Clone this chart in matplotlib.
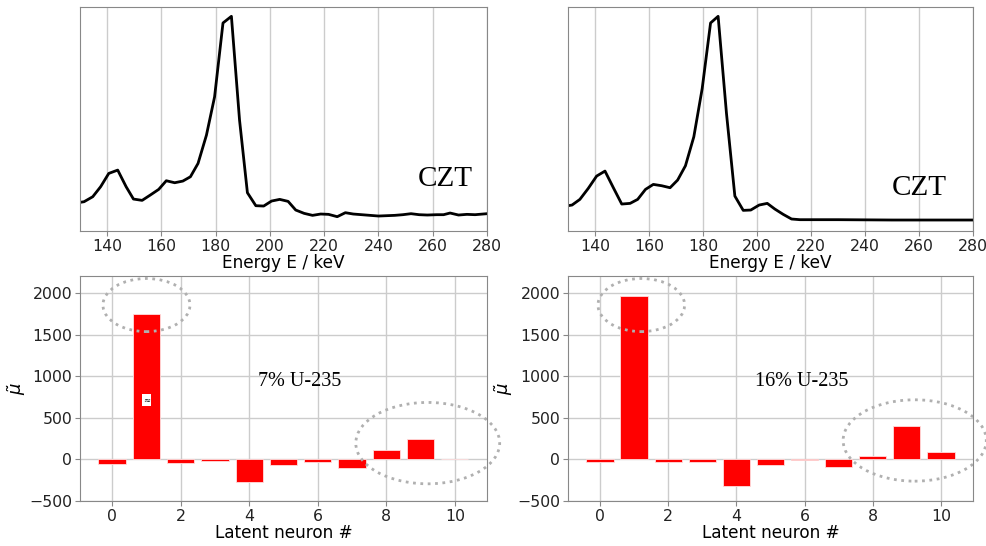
import matplotlib
matplotlib.use("Agg")
import matplotlib.pyplot as plt
from matplotlib.patches import Ellipse
import numpy as np

# ---- Data ----
energy_left = [130, 131.5, 134.7, 137.6, 140.6, 143.9, 147.0, 149.7, 152.9, 155.9, 159.0,
               161.8, 164.9, 167.9, 170.7, 173.5, 176.6, 179.6, 182.7, 185.8, 188.8,
               191.7, 194.8, 197.7, 200.6, 203.6, 206.7, 209.5, 212.6, 215.7, 218.7,
               221.6, 224.8, 227.8, 230.7, 233.8, 236.9, 240.0, 243.0, 246.0, 249.0,
               252.0, 255.0, 258.0, 261.5, 264.0, 266.4, 269.5, 272.6, 275.6, 280.0]
counts_left = [86, 88, 103, 133, 173, 183, 133, 96, 92, 108, 125,
               151, 145, 150, 163, 203, 288, 403, 625, 645, 333,
               115, 76, 75, 90, 95, 89, 63, 53, 47, 51,
               50, 43, 55, 51, 49, 47, 45, 46, 47, 49,
               52, 49, 48, 49, 49, 54, 48, 50, 49, 52]

energy_right = [130, 131.5, 134.4, 137.5, 140.6, 143.7, 146.8, 149.9, 153.0, 155.8, 158.7,
                161.6, 164.7, 167.8, 170.6, 173.5, 176.6, 179.7, 182.8, 185.6, 188.7,
                191.8, 194.9, 197.7, 200.8, 203.8, 206.6, 209.7, 212.8, 215.9, 230.0,
                250.0, 265.0, 280.0]
counts_right = [76, 78, 95, 128, 165, 180, 130, 81, 83, 95, 125,
                140, 136, 130, 153, 196, 283, 428, 625, 645, 353,
                105, 62, 63, 78, 83, 66, 50, 36, 34, 34,
                33, 33, 33]

neurons = list(range(11))
mu_7pct = [-50, 1750, -40, -18, -272, -72, -32, -97, 110, 245, 0]
mu_16pct = [-32, 1972, -32, -32, -322, -64, -8, -88, 44, 402, 88]

spectrum_ticks = [140, 160, 180, 200, 220, 240, 260, 280]
neuron_ticks = [0, 2, 4, 6, 8, 10]
mu_ticks = [-500, 0, 500, 1000, 1500, 2000]

W, H = 987, 546
fig = plt.figure(figsize=(W / 100, H / 100), dpi=100)

def ax_at(l, t, r, b):
    return fig.add_axes([l / W, 1 - b / H, (r - l) / W, (b - t) / H])

spine_col = "#888888"
tick_fs = 11.3
label_fs = 12.2

def style(ax):
    for s in ax.spines.values():
        s.set_color(spine_col)
    ax.tick_params(labelsize=tick_fs, colors="#222222", color=spine_col, pad=2)
    ax.set_axisbelow(True)

# ---- Top spectra ----
for (l, r), en, ct, cx, cy in [((80, 487), energy_left, counts_left, 264.5, 0.232),
                                ((568, 973), energy_right, counts_right, 260.0, 0.194)]:
    ax = ax_at(l, 7, r, 231)
    ax.plot(en, ct, color="black", lw=2)
    ax.set_xlim(130, 280)
    ax.set_ylim(0, 673)
    ax.set_xticks(spectrum_ticks)
    ax.set_yticks([])
    ax.grid(axis="x", color="#cccccc", lw=1)
    ax.set_xlabel("Energy E / keV", fontsize=label_fs, labelpad=0)
    style(ax)
    ax.text(cx, cy, "CZT", transform=ax.get_xaxis_transform(), ha="center",
            va="center", fontsize=21, family="Liberation Serif")

# ---- Bottom latent bars ----
panels = [((80, 487), mu_7pct, "7% U-235", 0.54, 1.0, 9.21, 197, -0.128),
          ((568, 973), mu_16pct, "16% U-235", 0.578, 1.21, 9.23, 229, -0.131)]
for (l, r), vals, label, tx, e1x, e2x, e2y, ylx in panels:
    ax = ax_at(l, 276, r, 501)
    ax.bar(neurons, vals, width=0.8, color="red", edgecolor="#ffdddd", linewidth=0.6)
    ax.set_ylim(-500, 2210)
    ax.set_xticks(neuron_ticks)
    ax.set_yticks(mu_ticks)
    ax.grid(True, color="#cccccc", lw=1)
    ax.set_xlabel("Latent neuron #", fontsize=label_fs, labelpad=0)
    ax.set_ylabel(r"$\tilde{\mu}$", fontsize=13)
    ax.yaxis.set_label_coords(ylx, 0.5)
    style(ax)
    ax.text(tx, 0.53, label, transform=ax.transAxes, ha="center", va="center",
            fontsize=14.5, family="Liberation Serif")
    ax.add_patch(Ellipse((e1x, 1860), 2.54, 640, fill=False, ls=":", lw=2,
                         edgecolor="#b0b0b0", clip_on=False))
    ax.add_patch(Ellipse((e2x, e2y), 4.2, 980, fill=False, ls=":", lw=2,
                         edgecolor="#b0b0b0", clip_on=False))
    if l == 80:
        ax.text(1.0, 720, "≈", ha="center", va="center", fontsize=6,
                bbox=dict(facecolor="white", edgecolor="none", pad=1))

fig.savefig("out.png", dpi=100)
